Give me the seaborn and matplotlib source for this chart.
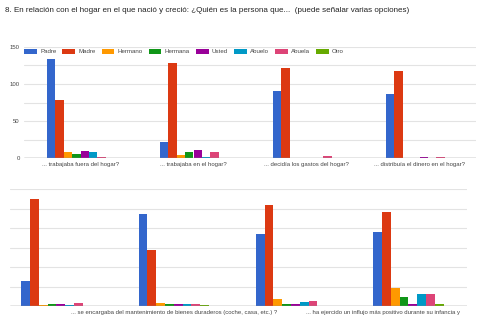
import pandas as pd
import matplotlib
matplotlib.use("Agg")
import matplotlib.pyplot as plt
import seaborn as sns

# Data
series = ["Padre", "Madre", "Hermano", "Hermana", "Usted", "Abuelo", "Abuela", "Otro"]
colors = ["#3366cc", "#dc3912", "#ff9900", "#109618", "#990099", "#0099c6", "#dd4477", "#66aa00"]

top_categories = ["... trabajaba fuera del hogar?", "... trabajaba en el hogar?",
                  "... decidía los gastos del hogar?", "... distribuía el dinero en el hogar?"]
top_padre = [134, 22, 91, 87]
top_madre = [79, 128, 122, 118]
top_hermano = [8, 4, 0.5, 0.5]
top_hermana = [5, 8, 0, 0]
top_usted = [10, 11, 0.5, 1.5]
top_abuelo = [8, 1, 0.5, 0.5]
top_abuela = [1, 8, 3, 2]
top_otro = [0, 0.5, 0, 0]

bottom_categories = ["(grupo 1)",
                     "... se encargaba del mantenimiento de bienes duraderos (coche, casa, etc.) ?",
                     "(grupo 3)",
                     "... ha ejercido un influjo más positivo durante su infancia y"]
bottom_labels = ["", bottom_categories[1], "", bottom_categories[3]]
bot_padre = [32, 118, 92, 95]
bot_madre = [137, 72, 130, 121]
bot_hermano = [1, 4, 8.5, 23]
bot_hermana = [2, 2, 2, 12]
bot_usted = [2, 2, 2, 2]
bot_abuelo = [1, 2, 5.5, 15]
bot_abuela = [3.5, 2, 7, 15]
bot_otro = [0, 1, 0, 2]

title = "8. En relación con el hogar en el que nació y creció: ¿Quién es la persona que...  (puede señalar varias opciones)"


def long_form(categories, values):
    rows = []
    for name, vals in zip(series, values):
        for cat, v in zip(categories, vals):
            rows.append({"cat": cat, "serie": name, "n": v})
    return pd.DataFrame(rows)


df_top = long_form(top_categories, [top_padre, top_madre, top_hermano, top_hermana,
                                    top_usted, top_abuelo, top_abuela, top_otro])
df_bot = long_form(bottom_categories, [bot_padre, bot_madre, bot_hermano, bot_hermana,
                                       bot_usted, bot_abuelo, bot_abuela, bot_otro])

sns.set_theme(style="white")
plt.rcParams["font.family"] = ["Liberation Sans", "DejaVu Sans"]

W, H = 479, 328
fig = plt.figure(figsize=(W / 100, H / 100), dpi=100)
fig.patch.set_facecolor("white")

palette = dict(zip(series, colors))

# top chart
ax1 = fig.add_axes([24 / W, 1 - 158 / H, (476 - 24) / W, (158 - 47) / H])
sns.barplot(data=df_top, x="cat", y="n", hue="serie", palette=palette, width=0.6,
            ax=ax1, order=top_categories, hue_order=series, linewidth=0, saturation=1)
ax1.set_xlim(-0.5, 3.5)

# bottom chart
ax2 = fig.add_axes([10 / W, 1 - 306 / H, (467 - 10) / W, (306 - 189) / H])
sns.barplot(data=df_bot, x="cat", y="n", hue="serie", palette=palette, width=0.6,
            ax=ax2, order=bottom_categories, hue_order=series, linewidth=0, saturation=1,
            legend=False)
ax2.set_xlim(-0.396, 3.5)

for ax in (ax1, ax2):
    ax.set_ylim(0, 150)
    ax.set_yticks([0, 25, 50, 75, 100, 125, 150])
    ax.grid(axis="y", color="#e3e3e3", linewidth=0.8)
    ax.set_axisbelow(True)
    ax.axhline(0, color="#8c8c8c", linewidth=1, zorder=5)
    for s in ax.spines.values():
        s.set_visible(False)
    ax.set_xlabel("")
    ax.set_ylabel("")
    ax.tick_params(length=0, labelsize=4.3, colors="#444444", pad=3)

ax1.set_yticklabels(["0", "", "50", "", "100", "", "150"])
ax2.set_yticklabels([])
ax2.set_xticks([0, 1, 2, 2.78])
ax2.set_xticklabels(bottom_labels)

ax1.legend(loc="upper left", bbox_to_anchor=(0, 0.985), ncol=8, frameon=False,
           fontsize=4.4, handlelength=2.1, handleheight=1.0, handletextpad=0.55,
           columnspacing=0.95, borderpad=0, borderaxespad=0, labelcolor="#444444")

fig.text(5 / W, 1 - 10 / H, title, fontsize=5.8, color="#222222", va="center", ha="left")

fig.savefig("out.png", dpi=100)
